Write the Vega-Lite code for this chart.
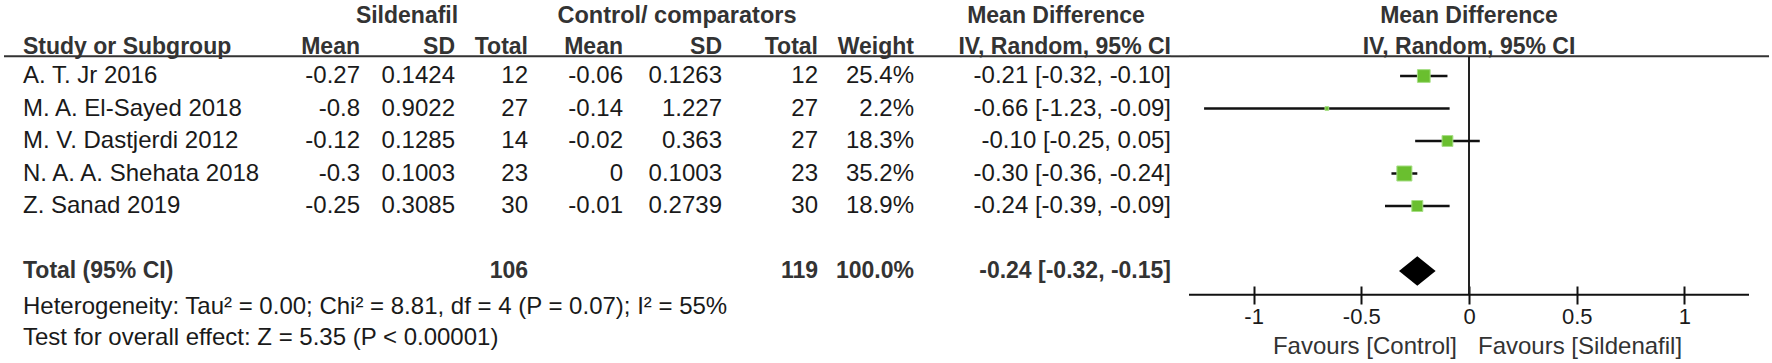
{
  "$schema": "https://vega.github.io/schema/vega-lite/v6.json",
  "background": "white",
  "padding": {"left": 3, "top": 3, "right": 0, "bottom": 0},
  "bounds": "flush",
  "spacing": 0,
  "config": {
    "view": {"stroke": null},
    "font": "Liberation Sans",
    "text": {"font": "Liberation Sans", "fontSize": 24, "color": "#1a1a1a", "baseline": "middle"}
  },
  "datasets": {
    "studies": [
      {"study": "A. T. Jr 2016", "s_mean": -0.27, "s_sd": 0.1424, "s_n": 12, "c_mean": -0.06, "c_sd": 0.1263, "c_n": 12, "weight": 25.4, "md": -0.21, "lo": -0.32, "hi": -0.10},
      {"study": "M. A. El-Sayed 2018", "s_mean": -0.8, "s_sd": 0.9022, "s_n": 27, "c_mean": -0.14, "c_sd": 1.227, "c_n": 27, "weight": 2.2, "md": -0.66, "lo": -1.23, "hi": -0.09},
      {"study": "M. V. Dastjerdi 2012", "s_mean": -0.12, "s_sd": 0.1285, "s_n": 14, "c_mean": -0.02, "c_sd": 0.363, "c_n": 27, "weight": 18.3, "md": -0.10, "lo": -0.25, "hi": 0.05},
      {"study": "N. A. A. Shehata 2018", "s_mean": -0.3, "s_sd": 0.1003, "s_n": 23, "c_mean": 0, "c_sd": 0.1003, "c_n": 23, "weight": 35.2, "md": -0.30, "lo": -0.36, "hi": -0.24},
      {"study": "Z. Sanad 2019", "s_mean": -0.25, "s_sd": 0.3085, "s_n": 30, "c_mean": -0.01, "c_sd": 0.2739, "c_n": 30, "weight": 18.9, "md": -0.24, "lo": -0.39, "hi": -0.09}
    ],
    "total": [
      {"label": "Total (95% CI)", "s_n": 106, "c_n": 119, "weight": 100, "md": -0.24, "lo": -0.32, "hi": -0.15}
    ]
  },
  "hconcat": [
    {
      "width": 277, "height": 325,
      "layer": [
        {"data": {"values": [{}]}, "mark": {"type": "rule", "stroke": "#333", "strokeWidth": 2, "yOffset": 12.8},
         "encoding": {"x": {"value": 0}, "x2": {"value": "width"}, "y": {"datum": "h2", "type": "nominal", "axis": null, "scale": {"type": "point", "padding": 0, "domain": ["h1","h2","A. T. Jr 2016","M. A. El-Sayed 2018","M. V. Dastjerdi 2012","N. A. A. Shehata 2018","Z. Sanad 2019","gap","total","het","test"]}}}},
        {"data": {"values": [{}]}, "mark": {"type": "text", "align": "left", "dx": 19, "dy": 3.7, "fontSize": 23, "fontWeight": "bold", "color": "#333", "text": "Study or Subgroup"},
         "encoding": {"x": {"value": 0}, "y": {"datum": "h2", "type": "nominal", "axis": null}}},
        {"data": {"name": "studies"}, "mark": {"type": "text", "align": "left", "dx": 19},
         "encoding": {"x": {"value": 0}, "y": {"field": "study", "type": "nominal", "axis": null}, "text": {"field": "study", "type": "nominal"}}},
        {"data": {"name": "total"}, "mark": {"type": "text", "align": "left", "dx": 19, "fontSize": 23, "fontWeight": "bold", "color": "#333"},
         "encoding": {"x": {"value": 0}, "y": {"datum": "total", "type": "nominal", "axis": null}, "text": {"field": "label", "type": "nominal"}}},
        {"data": {"values": [{}]}, "mark": {"type": "text", "align": "left", "dx": 19, "dy": 3.5, "text": "Heterogeneity: Tau² = 0.00; Chi² = 8.81, df = 4 (P = 0.07); I² = 55%"},
         "encoding": {"x": {"value": 0}, "y": {"datum": "het", "type": "nominal", "axis": null}}},
        {"data": {"values": [{}]}, "mark": {"type": "text", "align": "left", "dx": 19, "dy": 1.6, "text": "Test for overall effect: Z = 5.35 (P < 0.00001)"},
         "encoding": {"x": {"value": 0}, "y": {"datum": "test", "type": "nominal", "axis": null}}}
      ]
    },
    {
      "width": 79, "height": 325,
      "layer": [
        {"data": {"values": [{}]}, "mark": {"type": "rule", "stroke": "#333", "strokeWidth": 2, "yOffset": 12.8},
         "encoding": {"x": {"value": 0}, "x2": {"value": "width"}, "y": {"datum": "h2", "type": "nominal", "axis": null, "scale": {"type": "point", "padding": 0, "domain": ["h1","h2","A. T. Jr 2016","M. A. El-Sayed 2018","M. V. Dastjerdi 2012","N. A. A. Shehata 2018","Z. Sanad 2019","gap","total","het","test"]}}}},
        {"data": {"values": [{}]}, "mark": {"type": "text", "align": "right", "dy": 3.7, "fontSize": 23, "fontWeight": "bold", "color": "#333", "text": "Mean"},
         "encoding": {"x": {"value": "width"}, "y": {"datum": "h2", "type": "nominal", "axis": null}}},
        {"data": {"name": "studies"}, "mark": {"type": "text", "align": "right"},
         "encoding": {"x": {"value": "width"}, "y": {"field": "study", "type": "nominal", "axis": null}, "text": {"field": "s_mean", "type": "nominal"}}}
      ]
    },
    {
      "width": 95, "height": 325,
      "layer": [
        {"data": {"values": [{}]}, "mark": {"type": "rule", "stroke": "#333", "strokeWidth": 2, "yOffset": 12.8},
         "encoding": {"x": {"value": 0}, "x2": {"value": "width"}, "y": {"datum": "h2", "type": "nominal", "axis": null, "scale": {"type": "point", "padding": 0, "domain": ["h1","h2","A. T. Jr 2016","M. A. El-Sayed 2018","M. V. Dastjerdi 2012","N. A. A. Shehata 2018","Z. Sanad 2019","gap","total","het","test"]}}}},
        {"data": {"values": [{}]}, "mark": {"type": "text", "align": "center", "dx": -48, "dy": 4.6, "fontSize": 23, "fontWeight": "bold", "color": "#333", "text": "Sildenafil"},
         "encoding": {"x": {"value": "width"}, "y": {"datum": "h1", "type": "nominal", "axis": null}}},
        {"data": {"values": [{}]}, "mark": {"type": "text", "align": "right", "dy": 3.7, "fontSize": 23, "fontWeight": "bold", "color": "#333", "text": "SD"},
         "encoding": {"x": {"value": "width"}, "y": {"datum": "h2", "type": "nominal", "axis": null}}},
        {"data": {"name": "studies"}, "mark": {"type": "text", "align": "right"},
         "encoding": {"x": {"value": "width"}, "y": {"field": "study", "type": "nominal", "axis": null}, "text": {"field": "s_sd", "type": "nominal"}}}
      ]
    },
    {
      "width": 73, "height": 325,
      "layer": [
        {"data": {"values": [{}]}, "mark": {"type": "rule", "stroke": "#333", "strokeWidth": 2, "yOffset": 12.8},
         "encoding": {"x": {"value": 0}, "x2": {"value": "width"}, "y": {"datum": "h2", "type": "nominal", "axis": null, "scale": {"type": "point", "padding": 0, "domain": ["h1","h2","A. T. Jr 2016","M. A. El-Sayed 2018","M. V. Dastjerdi 2012","N. A. A. Shehata 2018","Z. Sanad 2019","gap","total","het","test"]}}}},
        {"data": {"values": [{}]}, "mark": {"type": "text", "align": "right", "dy": 3.7, "fontSize": 23, "fontWeight": "bold", "color": "#333", "text": "Total"},
         "encoding": {"x": {"value": "width"}, "y": {"datum": "h2", "type": "nominal", "axis": null}}},
        {"data": {"name": "studies"}, "mark": {"type": "text", "align": "right"},
         "encoding": {"x": {"value": "width"}, "y": {"field": "study", "type": "nominal", "axis": null}, "text": {"field": "s_n", "type": "nominal"}}},
        {"data": {"name": "total"}, "mark": {"type": "text", "align": "right", "fontSize": 23, "fontWeight": "bold", "color": "#333"},
         "encoding": {"x": {"value": "width"}, "y": {"datum": "total", "type": "nominal", "axis": null}, "text": {"field": "s_n", "type": "nominal"}}}
      ]
    },
    {
      "width": 95, "height": 325,
      "layer": [
        {"data": {"values": [{}]}, "mark": {"type": "rule", "stroke": "#333", "strokeWidth": 2, "yOffset": 12.8},
         "encoding": {"x": {"value": 0}, "x2": {"value": "width"}, "y": {"datum": "h2", "type": "nominal", "axis": null, "scale": {"type": "point", "padding": 0, "domain": ["h1","h2","A. T. Jr 2016","M. A. El-Sayed 2018","M. V. Dastjerdi 2012","N. A. A. Shehata 2018","Z. Sanad 2019","gap","total","het","test"]}}}},
        {"data": {"values": [{}]}, "mark": {"type": "text", "align": "right", "dy": 3.7, "fontSize": 23, "fontWeight": "bold", "color": "#333", "text": "Mean"},
         "encoding": {"x": {"value": "width"}, "y": {"datum": "h2", "type": "nominal", "axis": null}}},
        {"data": {"name": "studies"}, "mark": {"type": "text", "align": "right"},
         "encoding": {"x": {"value": "width"}, "y": {"field": "study", "type": "nominal", "axis": null}, "text": {"field": "c_mean", "type": "nominal"}}}
      ]
    },
    {
      "width": 99, "height": 325,
      "layer": [
        {"data": {"values": [{}]}, "mark": {"type": "rule", "stroke": "#333", "strokeWidth": 2, "yOffset": 12.8},
         "encoding": {"x": {"value": 0}, "x2": {"value": "width"}, "y": {"datum": "h2", "type": "nominal", "axis": null, "scale": {"type": "point", "padding": 0, "domain": ["h1","h2","A. T. Jr 2016","M. A. El-Sayed 2018","M. V. Dastjerdi 2012","N. A. A. Shehata 2018","Z. Sanad 2019","gap","total","het","test"]}}}},
        {"data": {"values": [{}]}, "mark": {"type": "text", "align": "center", "dx": -45, "dy": 4.6, "fontSize": 23.5, "fontWeight": "bold", "color": "#333", "text": "Control/ comparators"},
         "encoding": {"x": {"value": "width"}, "y": {"datum": "h1", "type": "nominal", "axis": null}}},
        {"data": {"values": [{}]}, "mark": {"type": "text", "align": "right", "dy": 3.7, "fontSize": 23, "fontWeight": "bold", "color": "#333", "text": "SD"},
         "encoding": {"x": {"value": "width"}, "y": {"datum": "h2", "type": "nominal", "axis": null}}},
        {"data": {"name": "studies"}, "mark": {"type": "text", "align": "right"},
         "encoding": {"x": {"value": "width"}, "y": {"field": "study", "type": "nominal", "axis": null}, "text": {"field": "c_sd", "type": "nominal"}}}
      ]
    },
    {
      "width": 96, "height": 325,
      "layer": [
        {"data": {"values": [{}]}, "mark": {"type": "rule", "stroke": "#333", "strokeWidth": 2, "yOffset": 12.8},
         "encoding": {"x": {"value": 0}, "x2": {"value": "width"}, "y": {"datum": "h2", "type": "nominal", "axis": null, "scale": {"type": "point", "padding": 0, "domain": ["h1","h2","A. T. Jr 2016","M. A. El-Sayed 2018","M. V. Dastjerdi 2012","N. A. A. Shehata 2018","Z. Sanad 2019","gap","total","het","test"]}}}},
        {"data": {"values": [{}]}, "mark": {"type": "text", "align": "right", "dy": 3.7, "fontSize": 23, "fontWeight": "bold", "color": "#333", "text": "Total"},
         "encoding": {"x": {"value": "width"}, "y": {"datum": "h2", "type": "nominal", "axis": null}}},
        {"data": {"name": "studies"}, "mark": {"type": "text", "align": "right"},
         "encoding": {"x": {"value": "width"}, "y": {"field": "study", "type": "nominal", "axis": null}, "text": {"field": "c_n", "type": "nominal"}}},
        {"data": {"name": "total"}, "mark": {"type": "text", "align": "right", "fontSize": 23, "fontWeight": "bold", "color": "#333"},
         "encoding": {"x": {"value": "width"}, "y": {"datum": "total", "type": "nominal", "axis": null}, "text": {"field": "c_n", "type": "nominal"}}}
      ]
    },
    {
      "width": 96, "height": 325,
      "layer": [
        {"data": {"values": [{}]}, "mark": {"type": "rule", "stroke": "#333", "strokeWidth": 2, "yOffset": 12.8},
         "encoding": {"x": {"value": 0}, "x2": {"value": "width"}, "y": {"datum": "h2", "type": "nominal", "axis": null, "scale": {"type": "point", "padding": 0, "domain": ["h1","h2","A. T. Jr 2016","M. A. El-Sayed 2018","M. V. Dastjerdi 2012","N. A. A. Shehata 2018","Z. Sanad 2019","gap","total","het","test"]}}}},
        {"data": {"values": [{}]}, "mark": {"type": "text", "align": "right", "dy": 3.7, "fontSize": 23, "fontWeight": "bold", "color": "#333", "text": "Weight"},
         "encoding": {"x": {"value": "width"}, "y": {"datum": "h2", "type": "nominal", "axis": null}}},
        {"data": {"name": "studies"}, "transform": [{"calculate": "format(datum.weight, '.1f') + '%'", "as": "wlabel"}], "mark": {"type": "text", "align": "right"},
         "encoding": {"x": {"value": "width"}, "y": {"field": "study", "type": "nominal", "axis": null}, "text": {"field": "wlabel", "type": "nominal"}}},
        {"data": {"name": "total"}, "transform": [{"calculate": "format(datum.weight, '.1f') + '%'", "as": "wlabel"}], "mark": {"type": "text", "align": "right", "fontSize": 23, "fontWeight": "bold", "color": "#333"},
         "encoding": {"x": {"value": "width"}, "y": {"datum": "total", "type": "nominal", "axis": null}, "text": {"field": "wlabel", "type": "nominal"}}}
      ]
    },
    {
      "width": 257, "height": 325,
      "layer": [
        {"data": {"values": [{}]}, "mark": {"type": "rule", "stroke": "#333", "strokeWidth": 2, "yOffset": 12.8},
         "encoding": {"x": {"value": 0}, "x2": {"value": "width"}, "y": {"datum": "h2", "type": "nominal", "axis": null, "scale": {"type": "point", "padding": 0, "domain": ["h1","h2","A. T. Jr 2016","M. A. El-Sayed 2018","M. V. Dastjerdi 2012","N. A. A. Shehata 2018","Z. Sanad 2019","gap","total","het","test"]}}}},
        {"data": {"values": [{}]}, "mark": {"type": "text", "align": "center", "dx": -115, "dy": 4.6, "fontSize": 23, "fontWeight": "bold", "color": "#333", "text": "Mean Difference"},
         "encoding": {"x": {"value": "width"}, "y": {"datum": "h1", "type": "nominal", "axis": null}}},
        {"data": {"values": [{}]}, "mark": {"type": "text", "align": "right", "dy": 3.7, "fontSize": 23, "fontWeight": "bold", "color": "#333", "text": "IV, Random, 95% CI"},
         "encoding": {"x": {"value": "width"}, "y": {"datum": "h2", "type": "nominal", "axis": null}}},
        {"data": {"name": "studies"}, "transform": [{"calculate": "replace(format(datum.md, '.2f'), '−', '-') + ' [' + replace(format(datum.lo, '.2f'), '−', '-') + ', ' + replace(format(datum.hi, '.2f'), '−', '-') + ']'", "as": "ci"}], "mark": {"type": "text", "align": "right"},
         "encoding": {"x": {"value": "width"}, "y": {"field": "study", "type": "nominal", "axis": null}, "text": {"field": "ci", "type": "nominal"}}},
        {"data": {"name": "total"}, "transform": [{"calculate": "replace(format(datum.md, '.2f'), '−', '-') + ' [' + replace(format(datum.lo, '.2f'), '−', '-') + ', ' + replace(format(datum.hi, '.2f'), '−', '-') + ']'", "as": "ci"}], "mark": {"type": "text", "align": "right", "fontSize": 23, "fontWeight": "bold", "color": "#333"},
         "encoding": {"x": {"value": "width"}, "y": {"datum": "total", "type": "nominal", "axis": null}, "text": {"field": "ci", "type": "nominal"}}}
      ]
    },
    {
      "width": 18, "height": 325,
      "layer": [
        {"data": {"values": [{}]}, "mark": {"type": "rule", "stroke": "#333", "strokeWidth": 2, "yOffset": 12.8},
         "encoding": {"x": {"value": 0}, "x2": {"value": "width"}, "y": {"datum": "h2", "type": "nominal", "axis": null, "scale": {"type": "point", "padding": 0, "domain": ["h1","h2","A. T. Jr 2016","M. A. El-Sayed 2018","M. V. Dastjerdi 2012","N. A. A. Shehata 2018","Z. Sanad 2019","gap","total","het","test"]}}}}
      ]
    },
    {
      "width": 560, "height": 325,
      "layer": [
        {"data": {"values": [{}]}, "mark": {"type": "rule", "stroke": "#333", "strokeWidth": 2, "yOffset": 12.8},
         "encoding": {
           "x": {"datum": -1.3, "type": "quantitative", "scale": {"domain": [-1.3, 1.3], "nice": false, "zero": false}, "axis": {"orient": "bottom", "values": [-1, -0.5, 0, 0.5, 1], "domain": false, "grid": false, "tickSize": 18, "tickWidth": 2, "tickColor": "#111", "labelFontSize": 22, "labelFont": "Liberation Sans", "labelColor": "#1a1a1a", "labelPadding": 2, "offset": -50, "title": null, "labelFlush": false, "labelOverlap": false, "labelExpr": "replace(format(datum.value, '~g'), '−', '-')"}},
           "x2": {"datum": 1.393},
           "y": {"datum": "h2", "type": "nominal", "axis": null, "scale": {"type": "point", "padding": 0, "domain": ["h1","h2","A. T. Jr 2016","M. A. El-Sayed 2018","M. V. Dastjerdi 2012","N. A. A. Shehata 2018","Z. Sanad 2019","gap","total","het","test"]}}}},
        {"data": {"values": [{}]}, "mark": {"type": "text", "align": "center", "dy": 4.6, "fontSize": 23, "fontWeight": "bold", "color": "#333", "text": "Mean Difference"},
         "encoding": {"x": {"datum": 0, "type": "quantitative"}, "y": {"datum": "h1", "type": "nominal", "axis": null}}},
        {"data": {"values": [{}]}, "mark": {"type": "text", "align": "center", "dy": 3.7, "fontSize": 23, "fontWeight": "bold", "color": "#333", "text": "IV, Random, 95% CI"},
         "encoding": {"x": {"datum": 0, "type": "quantitative"}, "y": {"datum": "h2", "type": "nominal", "axis": null}}},
        {"data": {"values": [{}]}, "mark": {"type": "rule", "stroke": "#222", "strokeWidth": 2, "yOffset": 12.8, "y2Offset": 23.7},
         "encoding": {"x": {"datum": 0, "type": "quantitative"}, "y": {"datum": "h2", "type": "nominal", "axis": null}, "y2": {"datum": "total"}}},
        {"data": {"values": [{}]}, "mark": {"type": "rule", "stroke": "#111", "strokeWidth": 2, "yOffset": 23.7},
         "encoding": {"x": {"datum": -1.3, "type": "quantitative"}, "x2": {"datum": 1.3}, "y": {"datum": "total", "type": "nominal", "axis": null}}},
        {"data": {"name": "studies"}, "mark": {"type": "rule", "stroke": "#111", "strokeWidth": 2.5},
         "encoding": {"x": {"field": "lo", "type": "quantitative"}, "x2": {"field": "hi"}, "y": {"field": "study", "type": "nominal", "axis": null}}},
        {"data": {"name": "studies"}, "mark": {"type": "point", "shape": "square", "filled": true, "fill": "#6abf2f", "stroke": "#a6de85", "strokeWidth": 1, "opacity": 1},
         "encoding": {"x": {"field": "md", "type": "quantitative"}, "y": {"field": "study", "type": "nominal", "axis": null}, "size": {"field": "weight", "type": "quantitative", "scale": {"type": "linear", "domain": [0, 40], "range": [0, 256]}, "legend": null}}},
        {"data": {"name": "total"}, "mark": {"type": "point", "shape": "M-1,0L0,-0.8L1,0L0,0.8Z", "filled": true, "fill": "#000", "strokeWidth": 0, "opacity": 1, "size": 1340},
         "encoding": {"x": {"field": "md", "type": "quantitative"}, "y": {"datum": "total", "type": "nominal", "axis": null}}},
        {"data": {"values": [{}]}, "mark": {"type": "text", "align": "right", "dx": -12, "dy": 11, "color": "#333", "text": "Favours [Control]"},
         "encoding": {"x": {"datum": 0, "type": "quantitative"}, "y": {"datum": "test", "type": "nominal", "axis": null}}},
        {"data": {"values": [{}]}, "mark": {"type": "text", "align": "left", "dx": 9, "dy": 11, "color": "#333", "text": "Favours [Sildenafil]"},
         "encoding": {"x": {"datum": 0, "type": "quantitative"}, "y": {"datum": "test", "type": "nominal", "axis": null}}}
      ]
    }
  ]
}
